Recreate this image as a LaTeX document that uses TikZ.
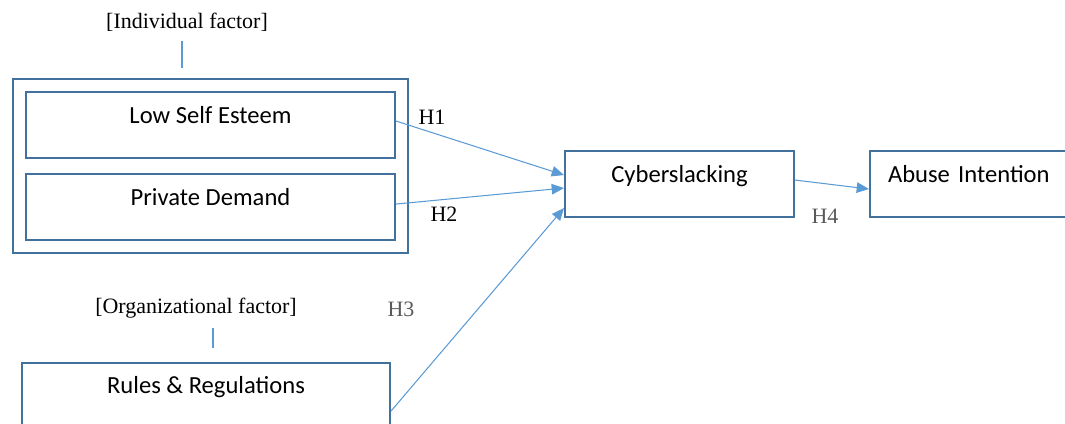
\documentclass[tikz,border=0pt]{standalone}
\usepackage{fontspec}
\setmainfont{Liberation Serif}
\newfontfamily\boxfont{Carlito}
\usetikzlibrary{arrows.meta,fit}
\definecolor{boxblue}{RGB}{65,113,156}
\definecolor{linkblue}{RGB}{91,155,213}
\definecolor{hgray}{RGB}{89,89,89}
\tikzset{
  factorbox/.style={draw=boxblue, line width=1.2pt, anchor=north west, inner xsep=0pt, inner ysep=0pt,
    text height=0.62cm, text depth=0.7cm, font=\boxfont\fontsize{14}{17}\selectfont},
  groupbox/.style={draw=boxblue, line width=1.2pt, inner sep=0.24cm},
  link/.style={draw=linkblue, line width=0.6pt, -{Triangle[length=7pt,width=6pt]}},
  stub/.style={draw=linkblue, line width=0.6pt},
  factorlbl/.style={font=\fontsize{12.5}{15}\selectfont},
  hyp/.style={font=\fontsize{12.5}{15}\selectfont}
}

\begin{document}
\begin{tikzpicture}[x=0.02cm,y=-0.02cm]
  \useasboundingbox (0,0) rectangle (1065,423);
  \clip (0,0) rectangle (1065,423);

  \node[factorbox, minimum width=7.38cm] (lse) at (25,91) {Low Self Esteem};
  \node[factorbox, minimum width=7.38cm] (pd) at (25,173) {Private Demand};
  \node[groupbox, fit=(lse)(pd)] (indiv) {};
  \node[factorbox, minimum width=4.58cm] (cyber) at (564,150) {Cyberslacking};
  \node[factorbox, text width=4.04cm, inner xsep=0.36cm, align=left] (abuse) at (869,150) {Abuse Intention};
  \node[factorbox, minimum width=7.36cm, text height=0.6cm, text depth=1.2cm] (rules) at (21,362) {Rules \& Regulations};

  \node[factorlbl] (indlbl) at (187,22) {[Individual factor]};
  \node[factorlbl] (orglbl) at (196,308) {[Organizational factor]};
  \coordinate (indstub) at (182,68);
  \coordinate (orgstub) at (213,348);
  \draw[stub, shorten <=0.08cm] (indlbl.south -| indstub) -- (indstub);
  \draw[stub, shorten <=0.08cm] (orglbl.south -| orgstub) -- (orgstub);

  \draw[link] ([yshift=0.08cm]lse.east) -- ([yshift=0.18cm]cyber.west);
  \draw[link] ([yshift=0.06cm]pd.east) -- ([yshift=-0.08cm]cyber.west);
  \draw[link] ([yshift=-0.06cm]rules.east) -- ([yshift=-0.48cm]cyber.west);
  \draw[link] ([yshift=0.08cm]cyber.east) -- ([yshift=-0.1cm]abuse.west);

  \node[hyp] (h1) at (432,117) {H1};
  \node[hyp] (h2) at (444,214) {H2};
  \node[hyp, text=hgray] (h3) at (401,309) {H3};
  \node[hyp, text=hgray] (h4) at (825,216) {H4};
\end{tikzpicture}
\end{document}
